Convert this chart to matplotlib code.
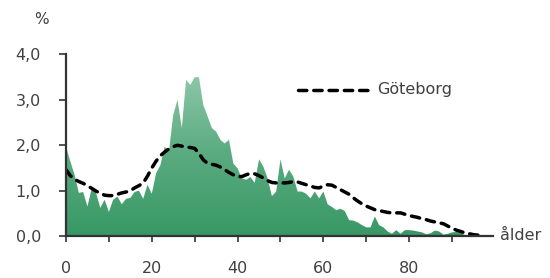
import numpy as np
import matplotlib
matplotlib.use("Agg")
import matplotlib.pyplot as plt
from matplotlib.colors import LinearSegmentedColormap

ages = list(range(0, 98))
area_vals = [1.97, 1.65, 1.35, 0.95, 0.97, 0.65, 1.05, 0.95, 0.62, 0.80,
             0.53, 0.80, 0.87, 0.70, 0.82, 0.84, 0.97, 1.00, 0.82, 1.13,
             0.93, 1.38, 1.56, 1.97, 1.86, 2.67, 3.00, 2.38, 3.44, 3.33,
             3.50, 3.50, 2.89, 2.64, 2.38, 2.30, 2.12, 2.04, 2.12, 1.60,
             1.49, 1.27, 1.24, 1.30, 1.17, 1.69, 1.53, 1.27, 0.88, 0.98,
             1.69, 1.27, 1.46, 1.31, 0.98, 0.98, 0.93, 0.83, 0.98, 0.83,
             0.98, 0.70, 0.64, 0.57, 0.60, 0.55, 0.35, 0.34, 0.30, 0.24,
             0.19, 0.19, 0.43, 0.24, 0.19, 0.10, 0.05, 0.13, 0.05, 0.13,
             0.13, 0.12, 0.10, 0.08, 0.04, 0.06, 0.12, 0.10, 0.03, 0.05,
             0.08, 0.09, 0.07, 0.02, 0.01, 0.01, 0.00, 0.00]
goteborg = [1.46, 1.33, 1.25, 1.20, 1.16, 1.11, 1.05, 0.99, 0.94, 0.90,
            0.89, 0.89, 0.92, 0.95, 0.97, 1.00, 1.06, 1.11, 1.17, 1.32,
            1.50, 1.65, 1.77, 1.85, 1.92, 1.97, 2.00, 1.98, 1.96, 1.95,
            1.93, 1.82, 1.68, 1.60, 1.58, 1.56, 1.52, 1.46, 1.40, 1.35,
            1.31, 1.31, 1.35, 1.38, 1.37, 1.33, 1.28, 1.22, 1.18, 1.17,
            1.17, 1.17, 1.18, 1.20, 1.19, 1.16, 1.13, 1.10, 1.07, 1.06,
            1.10, 1.13, 1.12, 1.07, 1.02, 0.97, 0.92, 0.84, 0.77, 0.71,
            0.66, 0.62, 0.58, 0.56, 0.54, 0.52, 0.51, 0.51, 0.51, 0.48,
            0.45, 0.43, 0.41, 0.38, 0.36, 0.33, 0.31, 0.29, 0.27, 0.22,
            0.17, 0.13, 0.10, 0.07, 0.05, 0.03, 0.02, 0.02]
yticks = [0, 1, 2, 3, 4]
ytick_labels = ["0,0", "1,0", "2,0", "3,0", "4,0"]
xticks_major = [0, 20, 40, 60, 80]
xticks_minor = [10, 30, 50, 70, 90]
series_label = "Göteborg"

text_color = "#404040"
axis_color = "#333333"

fig = plt.figure(figsize=(5.5, 2.78), dpi=100)
ax = fig.add_axes([0.12, 0.151, 0.776, 0.653])
ax.set_xlim(0, 99.5)
ax.set_ylim(0, 4)

# gradient fill clipped to area
poly = ax.fill_between(ages, 0, area_vals, facecolor="none", edgecolor="none")
cmap = LinearSegmentedColormap.from_list("g", ["#389865", "#5aab80", "#8ec8a8"])
grad = np.linspace(0, 1, 256).reshape(-1, 1)
im = ax.imshow(grad, cmap=cmap, origin="lower", aspect="auto",
               extent=[0, 99.5, 0, 3.6], zorder=1)
clip = poly.get_paths()[0]
im.set_clip_path(clip, transform=ax.transData)
ax.set_xlim(0, 99.5)
ax.set_ylim(0, 4)

ax.plot(ages, goteborg, color="black", lw=2.5, dashes=(2.4, 2.0),
        dash_capstyle="round", zorder=3)

# legend-like annotation
ax.plot([54.1, 71.0], [3.22, 3.22], color="black", lw=2.5, dashes=(2.4, 2.0),
        dash_capstyle="round", zorder=3, clip_on=False)
ax.text(72.6, 3.22, series_label, color=text_color, fontsize=11.5,
        va="center", ha="left")

for s in ["top", "right"]:
    ax.spines[s].set_visible(False)
for s in ["left", "bottom"]:
    ax.spines[s].set_color(axis_color)
    ax.spines[s].set_linewidth(1.6)
    ax.spines[s].set_zorder(4)

ax.set_yticks(yticks)
ax.set_yticklabels(ytick_labels)
ax.set_xticks(xticks_major)
ax.set_xticks(xticks_minor, minor=True)
ax.tick_params(axis="y", direction="out", length=5, width=1.2, color=axis_color,
               labelsize=11.5, labelcolor=text_color, pad=13)
ax.tick_params(axis="x", which="both", direction="out", length=4, width=1.2,
               color=axis_color, labelsize=11.5, labelcolor=text_color, pad=14)

fig.text(41 / 550, 1 - 20 / 278, "%", color=text_color, fontsize=11,
         ha="center", va="center")
fig.text(500 / 550, 1 - 236 / 278, "ålder", color=text_color, fontsize=11.5,
         ha="left", va="center")

fig.savefig("out.png", dpi=100)
